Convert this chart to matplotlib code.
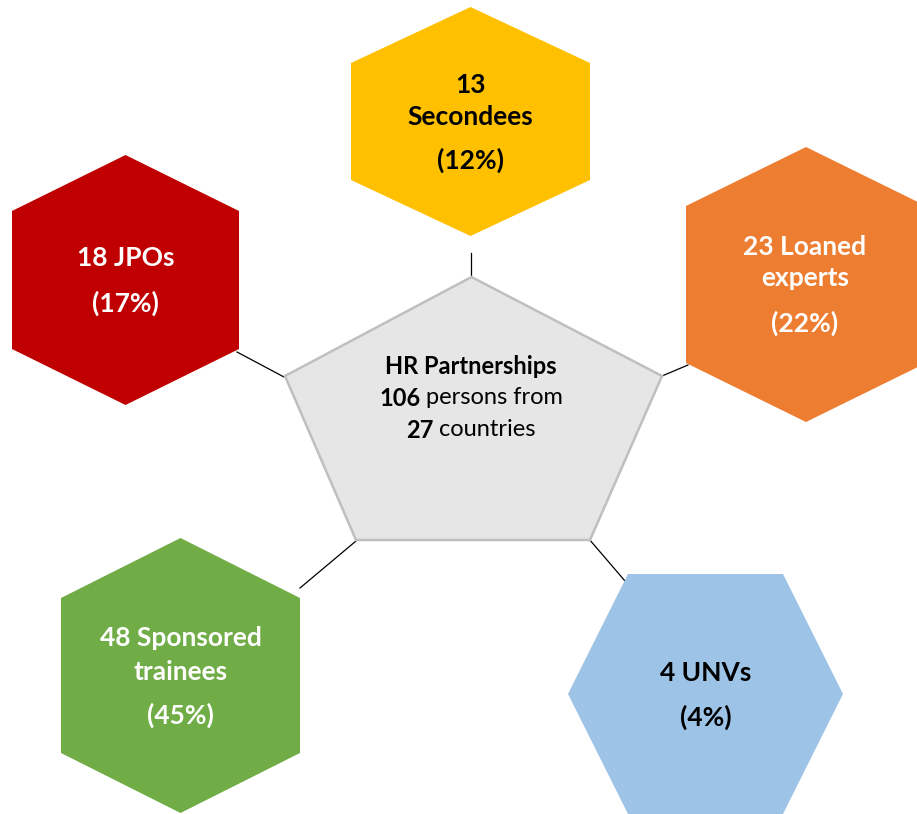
import matplotlib
matplotlib.use('Agg')
import matplotlib.pyplot as plt
from matplotlib.patches import Polygon

# ---------------- data ----------------
categories = ['Secondees', 'Loaned experts', 'UNVs', 'Sponsored trainees', 'JPOs']
counts = [13, 23, 4, 48, 18]
percents = [12, 22, 4, 45, 17]
total_persons = 106
countries = 27
center_title = 'HR Partnerships'

# label lines (first lines) built from data
label_lines = [
    [f'{counts[0]}', 'Secondees'],
    [f'{counts[1]} Loaned', 'experts'],
    [f'{counts[2]} UNVs'],
    [f'{counts[3]} Sponsored', 'trainees'],
    [f'{counts[4]} JPOs'],
]

# ---------------- styles / layout ----------------
colors = ['#FFC000', '#ED7D31', '#9DC3E6', '#70AD47', '#C00000']
text_colors = ['black', 'white', 'black', 'white', 'white']
# hexagon geometry: (cx, cy, half_w, half_h, shoulder, orientation)
hex_geom = [
    (470.5, 121.5, 119.5, 114.5, 58.5, 'pointy'),
    (806.0, 284.5, 120.0, 137.5, 78.5, 'pointy'),
    (705.5, 694.0, 137.5, 120.0, 77.5, 'flat'),
    (180.5, 675.5, 119.5, 137.5, 77.5, 'pointy'),
    (125.5, 280.0, 113.5, 125.0, 69.0, 'pointy'),
]
# text line y positions for each hexagon (centre of lines), then percentage line
text_y = [
    [85, 117, 160],
    [247, 278, 323],
    [673, 717],
    [638, 672, 715],
    [258, 303],
]
text_x = [470.5, 805, 706, 180.5, 125.5]

pent = [(471.5, 277), (662, 376), (590, 540), (356, 540), (285, 376)]
connectors = [
    [(471, 253), (471, 277)],
    [(662, 376), (688, 365)],
    [(589, 539), (631, 588)],
    [(356, 541), (300, 588)],
    [(237, 352), (284, 377)],
]

FONT = 'Lato'
W, H = 917, 814
fig = plt.figure(figsize=(W / 100, H / 100), dpi=100)
ax = fig.add_axes([0, 0, 1, 1])
ax.set_xlim(0, W)
ax.set_ylim(H, 0)
ax.axis('off')


def hexagon(cx, cy, hw, hh, sh, orient):
    if orient == 'pointy':
        return [(cx, cy - hh), (cx + hw, cy - sh), (cx + hw, cy + sh),
                (cx, cy + hh), (cx - hw, cy + sh), (cx - hw, cy - sh)]
    return [(cx - sh, cy - hh), (cx + sh, cy - hh), (cx + hw, cy),
            (cx + sh, cy + hh), (cx - sh, cy + hh), (cx - hw, cy)]


for seg in connectors:
    ax.plot([seg[0][0], seg[1][0]], [seg[0][1], seg[1][1]], color='black', lw=0.9, zorder=1)

ax.add_patch(Polygon(pent, closed=True, facecolor='#E6E6E6', edgecolor='#BFBFBF', lw=1.8, zorder=2))

for i in range(len(categories)):
    ax.add_patch(Polygon(hexagon(*hex_geom[i]), closed=True, facecolor=colors[i],
                         edgecolor='none', zorder=2))
    lines = label_lines[i] + [f'({percents[i]}%)']
    for line, y in zip(lines, text_y[i]):
        ax.text(text_x[i], y, line, ha='center', va='center', fontsize=19,
                fontweight='bold', color=text_colors[i], family=FONT, zorder=3)

# centre text with mixed weights
fig.canvas.draw()
renderer = fig.canvas.get_renderer()


def mixed_line(x, y, parts, size):
    texts = []
    for s, bold in parts:
        t = ax.text(0, y, s, ha='left', va='center', fontsize=size,
                    fontweight='bold' if bold else 'normal', family=FONT, zorder=4)
        texts.append(t)
    widths = []
    for t in texts:
        bb = t.get_window_extent(renderer=renderer)
        widths.append(bb.width)
    total = sum(widths)
    start = x - total / 2
    cur = start
    for t, w in zip(texts, widths):
        t.set_x(cur)
        cur += w


mixed_line(471, 367, [(center_title, True)], 17)
mixed_line(471, 398, [(f'{total_persons}', True), (' persons from', False)], 17)
mixed_line(471, 430, [(f'{countries}', True), (' countries', False)], 17)

fig.savefig('out.png', dpi=100)
